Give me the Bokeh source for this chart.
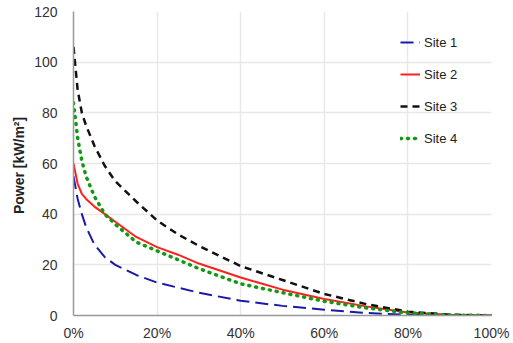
from bokeh.plotting import figure
from bokeh.models import NumeralTickFormatter, FixedTicker, Legend, LegendItem, Range1d
from bokeh.embed import file_html
from bokeh.resources import INLINE

exceed = [0, 0.01, 0.02, 0.03, 0.05, 0.075, 0.10, 0.15, 0.20, 0.25, 0.30, 0.40, 0.50, 0.60, 0.70, 0.80, 0.90, 1.00]
site1 = [55, 46, 40, 35, 28, 23, 20, 16, 13, 11, 9, 5.8, 3.8, 2.3, 1.0, 0.3, 0.0, 0.0]
site2 = [60, 52, 48, 46, 43, 40, 37, 31, 27, 24, 20.5, 15, 10.2, 6.5, 3.6, 1.2, 0.3, 0.0]
site3 = [106, 89, 80, 75, 67, 59, 53, 45, 37.5, 32, 27.5, 19.5, 14, 8.5, 4.5, 1.5, 0.3, 0.0]
site4 = [84, 70, 61, 55, 47, 40, 36, 29, 25.5, 22, 18.5, 12.5, 9, 5.6, 3.0, 1.0, 0.2, 0.0]
names = ["Site 1", "Site 2", "Site 3", "Site 4"]
x_ticks = [0, 0.2, 0.4, 0.6, 0.8, 1.0]
y_ticks = [0, 20, 40, 60, 80, 100, 120]

p = figure(width=513, height=343, output_backend="svg", toolbar_location=None,
           x_range=Range1d(0, 1), y_range=Range1d(0, 120),
           min_border_left=73, min_border_right=22, min_border_top=11, min_border_bottom=22)
p.outline_line_color = None
p.background_fill_color = "white"

FONT = "Liberation Sans"
styles = [
    dict(color="#1a1aa6", line_width=2, line_dash="13 6"),
    dict(color="#ff2020", line_width=2, line_dash="solid"),
    dict(color="#111111", line_width=2.5, line_dash="7 5"),
    dict(color="#119911", line_width=3.5, line_dash="1 6", line_cap="round"),
]
renderers = []
for ys, st in zip([site1, site2, site3, site4], styles):
    r = p.line(exceed, ys, line_color=st["color"], line_width=st["line_width"],
               line_dash=st["line_dash"], line_cap=st.get("line_cap", "butt"))
    renderers.append(r)

legend = Legend(items=[LegendItem(label=n, renderers=[r]) for n, r in zip(names, renderers)],
                location=(327, 167), background_fill_alpha=0, border_line_color=None,
                label_text_font=FONT, label_text_font_size="13px", label_text_color="#222222",
                glyph_width=20, glyph_height=20, spacing=12, padding=0, margin=0,
                label_standoff=4)
p.add_layout(legend)

p.xaxis.ticker = FixedTicker(ticks=x_ticks)
p.yaxis.ticker = FixedTicker(ticks=y_ticks)
p.xaxis.formatter = NumeralTickFormatter(format="0%")
for ax in (p.xaxis, p.yaxis):
    ax.major_label_text_font = FONT
    ax.major_label_text_font_size = "14px"
    ax.major_label_text_color = "#333333"
    ax.major_tick_line_color = None
    ax.minor_tick_line_color = None
    ax.axis_line_color = "#999999"
    ax.axis_line_width = 1.5
p.xaxis.major_label_standoff = 3
p.yaxis.major_label_standoff = 10
p.yaxis.axis_label = "Power  [kW/m²]"
p.yaxis.axis_label_text_font = FONT
p.yaxis.axis_label_text_font_size = "14px"
p.yaxis.axis_label_text_font_style = "bold"
p.yaxis.axis_label_text_color = "#222222"
p.yaxis.axis_label_standoff = 4

p.xgrid.ticker = FixedTicker(ticks=x_ticks)
p.ygrid.ticker = FixedTicker(ticks=y_ticks)
p.xgrid.grid_line_color = "#e8e8e8"
p.ygrid.grid_line_color = "#e8e8e8"
p.xgrid.grid_line_width = 1.5
p.ygrid.grid_line_width = 1.5

open("out.html", "w").write(file_html(p, INLINE))
